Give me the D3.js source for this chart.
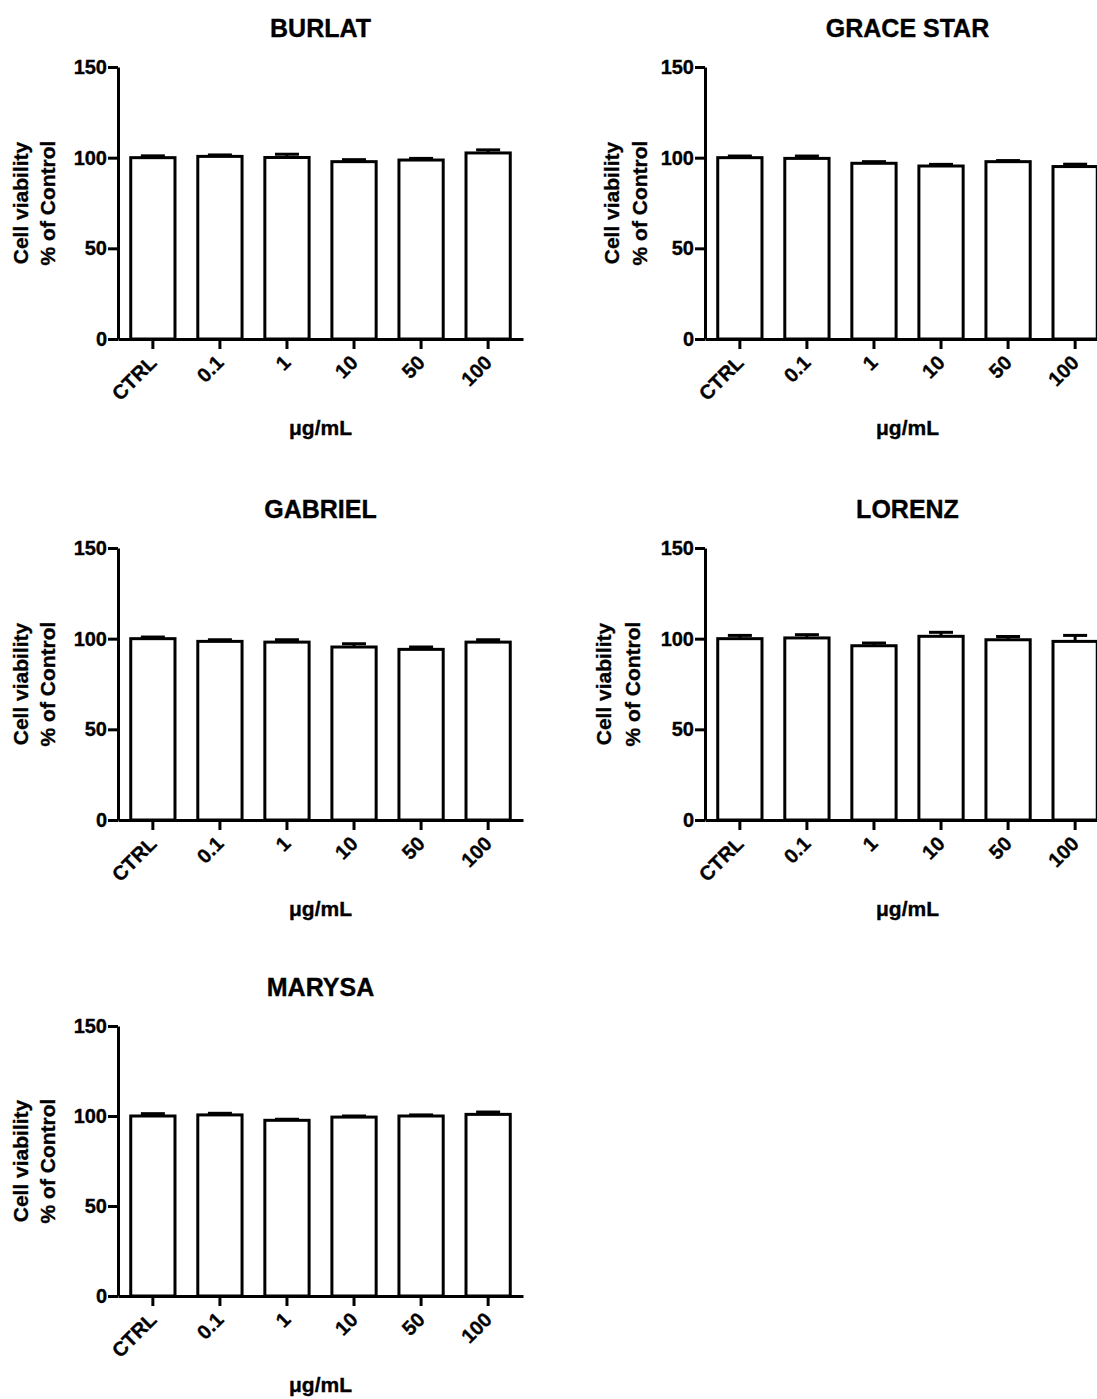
<!DOCTYPE html>
<html>
<head>
<meta charset="utf-8">
<script src="https://cdn.jsdelivr.net/npm/d3@7"></script>
<style>
  body { margin: 0; background: #fff; }
  svg { display: block; overflow: hidden; }
  text { font-family: "Liberation Sans", Arial, Helvetica, sans-serif; font-weight: bold; fill: #000; stroke: #000; stroke-width: 0.35px; }
</style>
</head>
<body>
<svg id="chart"></svg>
<script>
// Width and height of the whole picture
const w = 1097;
const h = 1399;

// x categories (concentrations) shared by every panel
const doses = ["CTRL", "0.1", "1", "10", "50", "100"];
// y ticks
const yTicks = [0, 50, 100, 150];

// panel names
const cultivars = ["BURLAT", "GRACE STAR", "GABRIEL", "LORENZ", "MARYSA"];

// mean cell viability (% of control) per cultivar, in dose order
const burlatMean    = [100, 100.7, 100.1, 97.8, 98.7, 102.6];
const graceMean     = [100, 99.6, 96.9, 95.4, 97.8, 95.1];
const gabrielMean   = [100, 98.5, 98.1, 95.4, 94.1, 98.1];
const lorenzMean    = [100, 100.4, 96.1, 101.3, 99.4, 98.5];
const marysaMean    = [100, 100.6, 97.6, 99.4, 100, 100.9];

// error (SEM) per cultivar, in dose order
const burlatErr     = [1.0, 0.8, 1.8, 1.1, 0.9, 1.7];
const graceErr      = [0.9, 1.3, 0.9, 0.9, 0.6, 1.3];
const gabrielErr    = [0.9, 0.9, 1.3, 1.8, 1.3, 1.3];
const lorenzErr     = [1.8, 1.8, 1.5, 2.2, 1.8, 3.3];
const marysaErr     = [1.3, 0.9, 0.6, 0.6, 0.6, 1.3];

const means = [burlatMean, graceMean, gabrielMean, lorenzMean, marysaMean];
const errs = [burlatErr, graceErr, gabrielErr, lorenzErr, marysaErr];

// where each panel sits: x of y-axis, y of the 150 and 0 ticks, and y-label offsets
const layout = [
  { x0: 118, top: 67,   bottom: 339,  lab1: -90, lab2: -63 },
  { x0: 705, top: 67,   bottom: 339,  lab1: -86, lab2: -58 },
  { x0: 118, top: 548,  bottom: 820,  lab1: -90, lab2: -63 },
  { x0: 705, top: 548,  bottom: 820,  lab1: -94, lab2: -65 },
  { x0: 118, top: 1026, bottom: 1296, lab1: -90, lab2: -63 }
];

const axisWidth = 405;   // length of the x axis
const stroke = 3;        // line thickness for axes, bars and error bars
const capWidth = 24;     // width of the error bar caps

const svg = d3.select("#chart")
  .attr("width", w)
  .attr("height", h);

cultivars.forEach((name, i) => {
  const L = layout[i];
  // rows of data for this panel
  const rows = doses.map((d, j) => ({ dose: d, mean: means[i][j], err: errs[i][j] }));

  // band scale for the concentrations
  const x = d3.scaleBand()
    .domain(doses)
    .range([L.x0, L.x0 + axisWidth])
    .paddingInner(0.34)
    .paddingOuter(0.19);

  // linear scale for viability
  const y = d3.scaleLinear()
    .domain([0, 150])
    .range([L.bottom, L.top]);

  const g = svg.append("g").attr("class", "panel");

  // bars (white with thick black outline)
  g.selectAll("rect.bar")
    .data(rows)
    .enter()
    .append("rect")
    .attr("class", "bar")
    .attr("x", d => x(d.dose))
    .attr("width", x.bandwidth())
    .attr("y", d => y(d.mean))
    .attr("height", d => y(0) - y(d.mean))
    .style("fill", "#fff")
    .style("stroke", "#000")
    .style("stroke-width", stroke);

  // error bars: vertical stem plus cap
  const eb = g.selectAll("g.err")
    .data(rows)
    .enter()
    .append("g")
    .attr("class", "err");

  eb.append("line")
    .attr("x1", d => x(d.dose) + x.bandwidth() / 2)
    .attr("x2", d => x(d.dose) + x.bandwidth() / 2)
    .attr("y1", d => y(d.mean))
    .attr("y2", d => y(d.mean + d.err))
    .style("stroke", "#000")
    .style("stroke-width", stroke);

  eb.append("line")
    .attr("x1", d => x(d.dose) + x.bandwidth() / 2 - capWidth / 2)
    .attr("x2", d => x(d.dose) + x.bandwidth() / 2 + capWidth / 2)
    .attr("y1", d => y(d.mean + d.err))
    .attr("y2", d => y(d.mean + d.err))
    .style("stroke", "#000")
    .style("stroke-width", stroke);

  // y axis
  const yAxis = g.append("g")
    .attr("transform", `translate(${L.x0},0)`)
    .call(d3.axisLeft(y).tickValues(yTicks).tickSize(10).tickSizeOuter(0).tickPadding(1));

  // x axis
  const xAxis = g.append("g")
    .attr("transform", `translate(0,${L.bottom})`)
    .call(d3.axisBottom(x).tickSize(10).tickSizeOuter(0));

  // rotate the dose labels by 45 degrees
  xAxis.selectAll(".tick text")
    .attr("x", 0)
    .attr("y", 0)
    .attr("dy", 0)
    .attr("transform", "translate(5,25) rotate(-45)")
    .style("text-anchor", "end");

  [yAxis, xAxis].forEach(a => {
    a.selectAll("path, line")
      .style("stroke", "#000")
      .style("stroke-width", stroke);
    a.selectAll("text")
      .style("font-size", "20px")
      .style("font-family", "'Liberation Sans', Arial, sans-serif")
      .style("font-weight", "bold")
      .style("fill", "#000");
  });

  // panel title
  const cx = L.x0 + axisWidth / 2;
  g.append("text")
    .attr("x", cx)
    .attr("y", L.top - 30)
    .attr("text-anchor", "middle")
    .style("font-size", "25px")
    .text(name);

  // x axis title
  g.append("text")
    .attr("x", cx)
    .attr("y", L.bottom + 96)
    .attr("text-anchor", "middle")
    .style("font-size", "21px")
    .text("μg/mL");

  // y axis title on two lines
  const cy = (L.top + L.bottom) / 2;
  g.append("text")
    .attr("transform", `translate(${L.x0 + L.lab1},${cy}) rotate(-90)`)
    .attr("text-anchor", "middle")
    .style("font-size", "21px")
    .text("Cell viability");

  g.append("text")
    .attr("transform", `translate(${L.x0 + L.lab2},${cy}) rotate(-90)`)
    .attr("text-anchor", "middle")
    .style("font-size", "21px")
    .text("% of Control");
});
</script>
</body>
</html>
